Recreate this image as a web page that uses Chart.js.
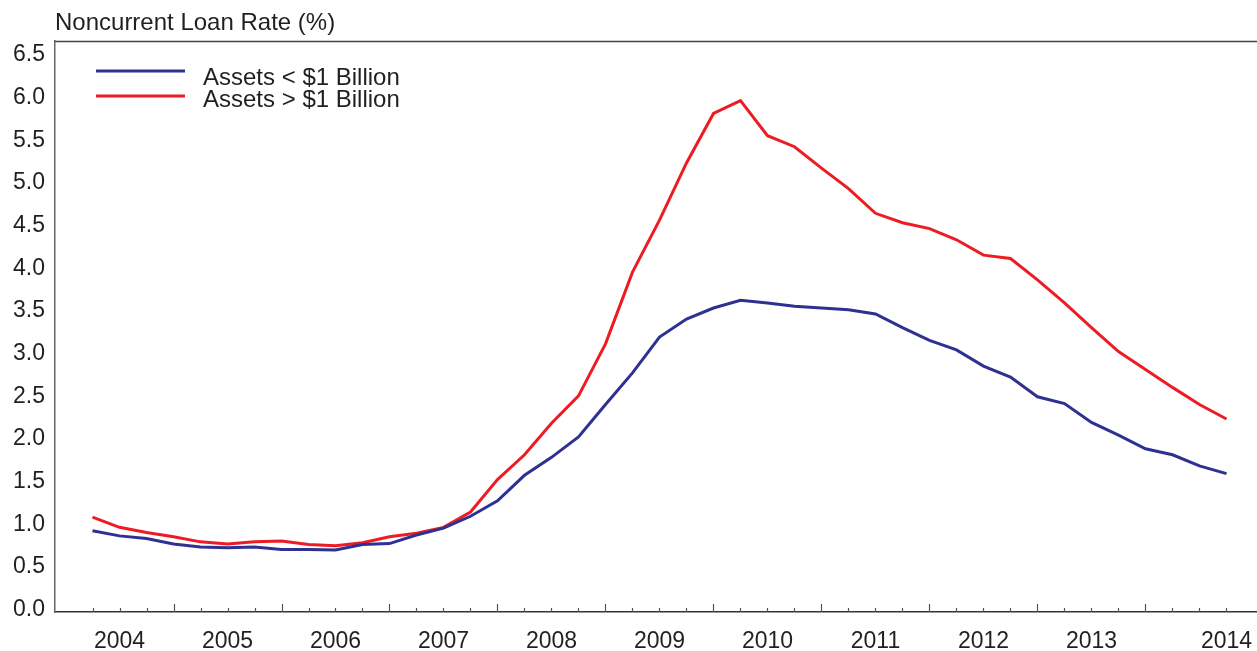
<!DOCTYPE html>
<html>
<head>
<meta charset="utf-8">
<script src="https://cdn.jsdelivr.net/npm/chart.js@4.4.1/dist/chart.umd.min.js"></script>
<style>
  html, body { margin: 0; padding: 0; background: #ffffff; }
  canvas { display: block; }
</style>
</head>
<body>
<canvas id="c" width="1257" height="651"></canvas>
<script>
// ---- data ----
const quarters = [
  '2004Q1','2004Q2','2004Q3','2004Q4',
  '2005Q1','2005Q2','2005Q3','2005Q4',
  '2006Q1','2006Q2','2006Q3','2006Q4',
  '2007Q1','2007Q2','2007Q3','2007Q4',
  '2008Q1','2008Q2','2008Q3','2008Q4',
  '2009Q1','2009Q2','2009Q3','2009Q4',
  '2010Q1','2010Q2','2010Q3','2010Q4',
  '2011Q1','2011Q2','2011Q3','2011Q4',
  '2012Q1','2012Q2','2012Q3','2012Q4',
  '2013Q1','2013Q2','2013Q3','2013Q4',
  '2014Q1','2014Q2','2014Q3'
];
const smallBanks = [
  0.89, 0.83, 0.80, 0.735, 0.70, 0.69, 0.70, 0.67, 0.67, 0.665,
  0.73, 0.74, 0.84, 0.92, 1.06, 1.24, 1.54, 1.75, 1.99, 2.37,
  2.74, 3.16, 3.37, 3.50, 3.59, 3.56, 3.52, 3.50, 3.48, 3.43,
  3.27, 3.12, 3.01, 2.82, 2.69, 2.46, 2.38, 2.16, 2.01, 1.85,
  1.78, 1.65, 1.56
];
const largeBanks = [
  1.05, 0.93, 0.87, 0.82, 0.76, 0.735, 0.76, 0.77, 0.73, 0.715,
  0.75, 0.82, 0.86, 0.93, 1.11, 1.49, 1.78, 2.15, 2.47, 3.08,
  3.92, 4.53, 5.20, 5.78, 5.93, 5.52, 5.39, 5.14, 4.90, 4.61,
  4.50, 4.43, 4.30, 4.12, 4.08, 3.83, 3.56, 3.27, 2.99, 2.78,
  2.57, 2.37, 2.20
];
const yearLabels = ['2004','2005','2006','2007','2008','2009','2010','2011','2012','2013','2014'];
const yearLabelQuarters = ['2004Q2','2005Q2','2006Q2','2007Q2','2008Q2','2009Q2','2010Q2','2011Q2','2012Q2','2013Q2','2014Q3'];
const yTickValues = [0, 0.5, 1, 1.5, 2, 2.5, 3, 3.5, 4, 4.5, 5, 5.5, 6, 6.5];
const seriesNames = ['Assets < $1 Billion', 'Assets > $1 Billion'];
const axisTitle = 'Noncurrent Loan Rate (%)';

// ---- styling ----
const BLUE = '#2e3192';
const RED = '#ed1c24';
const TEXT = '#231f20';
const FONT = '"Liberation Sans", Arial, Helvetica, sans-serif';

const toPoints = arr => arr.map((v, i) => ({ x: i, y: v }));

const decor = {
  id: 'decor',
  afterDraw(chart) {
    const { ctx, chartArea: a, scales: { x } } = chart;
    ctx.save();
    // top frame line
    ctx.strokeStyle = '#444444';
    ctx.lineWidth = 1.5;
    ctx.beginPath();
    ctx.moveTo(a.left, a.top + 0.5);
    ctx.lineTo(chart.width, a.top + 0.5);
    ctx.stroke();
    // inward tick marks at every quarter, longer at year ends
    ctx.strokeStyle = '#555555';
    ctx.lineWidth = 1.2;
    quarters.forEach((q, i) => {
      const px = Math.round(x.getPixelForValue(i)) + 0.5;
      const len = q.endsWith('Q4') ? 8 : 4;
      ctx.beginPath();
      ctx.moveTo(px, a.bottom);
      ctx.lineTo(px, a.bottom - len);
      ctx.stroke();
    });
    // axis title
    ctx.fillStyle = TEXT;
    ctx.font = '24px ' + FONT;
    ctx.textAlign = 'left';
    ctx.textBaseline = 'alphabetic';
    ctx.fillText(axisTitle, a.left, 30);
    // legend
    const lineY = [71, 96];
    const textY = [84.5, 106.5];
    chart.data.datasets.forEach((ds, k) => {
      ctx.strokeStyle = ds.borderColor;
      ctx.lineWidth = 3;
      ctx.beginPath();
      ctx.moveTo(96, lineY[k]);
      ctx.lineTo(185, lineY[k]);
      ctx.stroke();
      ctx.fillStyle = TEXT;
      ctx.fillText(ds.label, 203, textY[k]);
    });
    ctx.restore();
  }
};

new Chart(document.getElementById('c'), {
  type: 'line',
  data: {
    datasets: [
      { label: seriesNames[0], data: toPoints(smallBanks), borderColor: BLUE, borderWidth: 3, pointRadius: 0, tension: 0, fill: false },
      { label: seriesNames[1], data: toPoints(largeBanks), borderColor: RED, borderWidth: 3, pointRadius: 0, tension: 0, fill: false }
    ]
  },
  options: {
    responsive: false,
    devicePixelRatio: 1,
    animation: false,
    layout: { padding: { top: 41, right: 0, left: 0, bottom: 0 } },
    plugins: { legend: { display: false }, title: { display: false }, tooltip: { enabled: false } },
    scales: {
      x: {
        type: 'linear',
        min: -1.389,
        max: 43.13,
        grid: { display: false, drawTicks: false, tickLength: 0 },
        border: { display: true, color: '#333333', width: 1.5 },
        afterBuildTicks: s => { s.ticks = yearLabelQuarters.map(q => ({ value: quarters.indexOf(q) })); },
        afterFit: s => { s.height = 39; s.paddingLeft = 0; s.paddingRight = 0; },
        ticks: {
          autoSkip: false,
          maxRotation: 0,
          padding: 16,
          color: TEXT,
          font: { family: FONT, size: 23 },
          callback: v => {
            const k = yearLabelQuarters.indexOf(quarters[v]);
            return k >= 0 ? yearLabels[k] : '';
          }
        }
      },
      y: {
        type: 'linear',
        min: -0.062,
        max: 6.629,
        grid: { display: false, drawTicks: false, tickLength: 0 },
        border: { display: true, color: '#666666', width: 1.5 },
        afterBuildTicks: s => { s.ticks = yTickValues.map(v => ({ value: v })); },
        afterFit: s => { s.width = 55; s.paddingTop = 0; s.paddingBottom = 0; },
        ticks: {
          padding: 10,
          labelOffset: 3,
          color: TEXT,
          font: { family: FONT, size: 23 },
          callback: v => Number(v).toFixed(1)
        }
      }
    }
  },
  plugins: [decor]
});
</script>
</body>
</html>
